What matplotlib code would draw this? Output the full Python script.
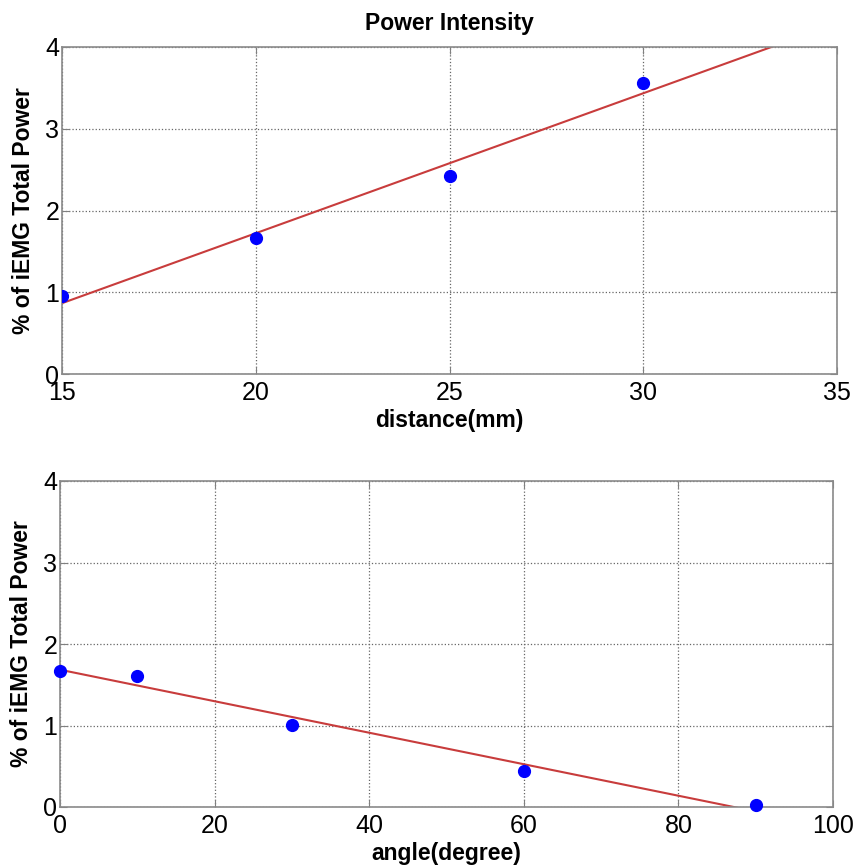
import numpy as np
import matplotlib.pyplot as plt

plt.rcParams['font.family'] = ['Liberation Sans', 'DejaVu Sans']

# power vs electrode distance
distance = [15, 20, 25, 30]
power_dist = [0.96, 1.66, 2.42, 3.56]

# power vs electrode angle
angle = [0, 10, 30, 60, 90]
power_angle = [1.67, 1.61, 1.01, 0.44, 0.02]


def style_axes(ax, xlim, xticks):
    ax.set_xlim(xlim)
    ax.set_ylim(0, 4)
    ax.set_xticks(xticks)
    ax.set_yticks([0, 1, 2, 3, 4])
    ax.grid(True, linestyle=':', color='#666666', linewidth=0.9)
    ax.tick_params(direction='in', length=5, labelsize=18, pad=2,
                   color='#808080', top=True, right=True)
    ax.tick_params(axis='x', pad=5)
    for s in ax.spines.values():
        s.set_color('#8a8a8a')
        s.set_linewidth(1.2)
    ax.set_ylabel('% of iEMG Total Power', fontsize=16.5, fontweight='bold', labelpad=7)


fig = plt.figure(figsize=(8.59, 8.65), dpi=100)
ax1 = fig.add_axes([62 / 859, 1 - 374 / 865, 775 / 859, 327 / 865])
ax2 = fig.add_axes([60 / 859, 1 - 807 / 865, 773 / 859, 326 / 865])

# least-squares fit lines
p1 = np.polyfit(distance, power_dist, 1)
xs1 = np.array([15, 35])
ax1.plot(xs1, np.polyval(p1, xs1), color='#c83c3c', linewidth=1.5, zorder=2)
ax1.plot(distance, power_dist, 'o', color='#0000ff', markersize=8.5, zorder=3)
style_axes(ax1, (15, 35), [15, 20, 25, 30, 35])
ax1.set_xlabel('distance(mm)', fontsize=16.5, fontweight='bold', labelpad=3)
ax1.set_title('Power Intensity', fontsize=16.5, fontweight='bold', pad=12)

p2 = np.polyfit(angle, power_angle, 1)
xs2 = np.array([0, 100])
ax2.plot(xs2, np.polyval(p2, xs2), color='#c83c3c', linewidth=1.5, zorder=2)
ax2.plot(angle, power_angle, 'o', color='#0000ff', markersize=8.5, zorder=3, clip_on=False)
style_axes(ax2, (0, 100), [0, 20, 40, 60, 80, 100])
ax2.set_xlabel('angle(degree)', fontsize=16.5, fontweight='bold', labelpad=3)

fig.savefig('out.png', dpi=100)
